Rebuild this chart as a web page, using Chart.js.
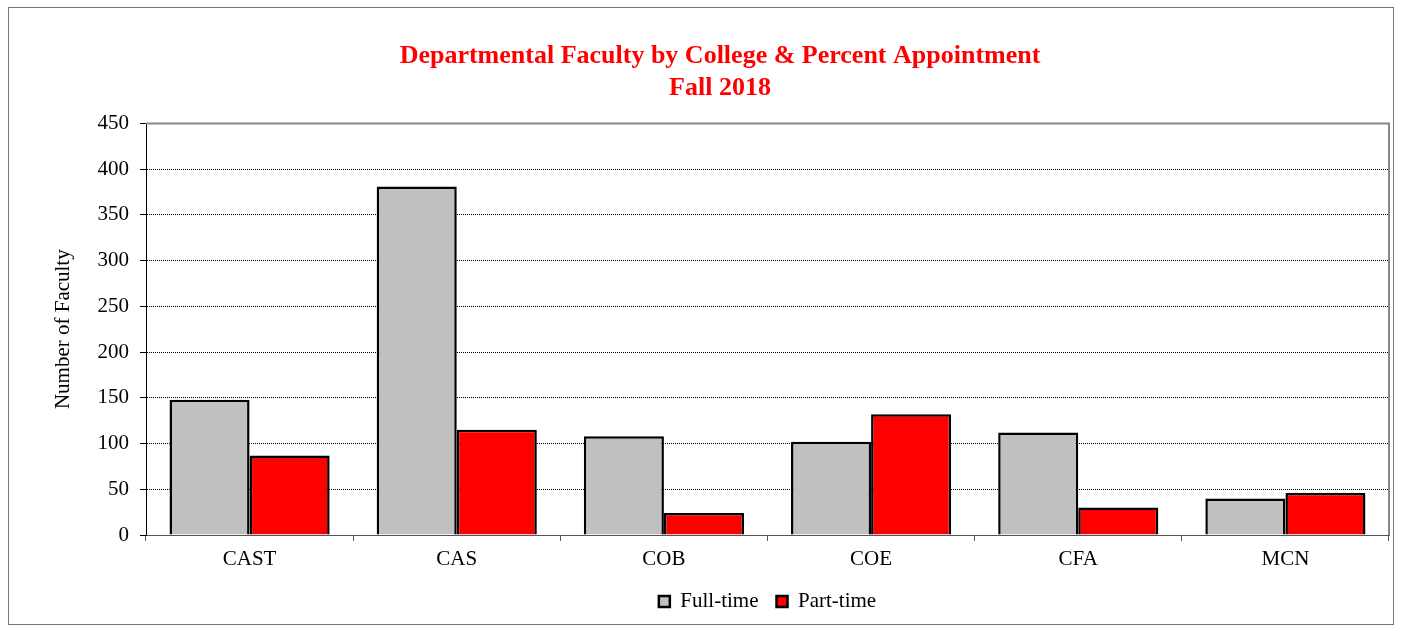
<!DOCTYPE html>
<html>
<head>
<meta charset="utf-8">
<script src="https://cdn.jsdelivr.net/npm/chart.js@4"></script>
<style>
  html, body { margin: 0; padding: 0; background: #fff; }
  #wrap { width: 1401px; height: 626px; }
</style>
</head>
<body>
<div id="wrap"><canvas id="facultyChart"></canvas></div>
<script>
const colleges = ["CAST", "CAS", "COB", "COE", "CFA", "MCN"];
const fullTime = [148, 381, 108, 102, 112, 40];
const partTime = [87, 115, 24, 132, 30, 46];
const titleLines = ["Departmental Faculty by College & Percent Appointment", "Fall 2018"];

const serif = "'Liberation Serif', 'Times New Roman', serif";

// outer chart border plus the gray top/right edge of the plot area
const frame = {
  id: "frame",
  beforeDatasetsDraw(chart) {
    const { ctx, chartArea } = chart;
    ctx.save();
    ctx.strokeStyle = "#888";
    ctx.lineWidth = 2;
    ctx.beginPath();
    ctx.moveTo(chartArea.left, chartArea.top);
    ctx.lineTo(chartArea.right, chartArea.top);
    ctx.lineTo(chartArea.right, chartArea.bottom);
    ctx.stroke();
    ctx.restore();
  },
  afterDraw(chart) {
    const ctx = chart.ctx;
    ctx.save();
    ctx.strokeStyle = "#777";
    ctx.lineWidth = 1;
    ctx.strokeRect(8.5, 7.5, 1385, 617);
    ctx.restore();
  },
};

new Chart(document.getElementById("facultyChart"), {
  type: "bar",
  data: {
    labels: colleges,
    datasets: [
      {
        label: "Full-time",
        data: fullTime,
        backgroundColor: "#C0C0C0",
        borderColor: "#000",
        borderWidth: 2.5,
      },
      {
        label: "Part-time",
        data: partTime,
        backgroundColor: "#FF0000",
        borderColor: "#000",
        borderWidth: 2.5,
      },
    ],
  },
  options: {
    responsive: true,
    maintainAspectRatio: false,
    animation: false,
    layout: { padding: { left: 51, right: 12, top: 8, bottom: 4 } },
    datasets: { bar: { categoryPercentage: 0.773, barPercentage: 1.0 } },
    plugins: {
      title: {
        display: true,
        text: titleLines,
        color: "#FF0000",
        font: { family: serif, size: 26, weight: "bold", lineHeight: 1.2 },
        padding: { top: 33, bottom: 20 },
      },
      legend: {
        position: "bottom",
        fullSize: false,
        labels: {
          color: "#000",
          font: { family: serif, size: 21 },
          boxWidth: 11,
          boxHeight: 11,
          padding: 18,
        },
      },
      tooltip: { enabled: false },
    },
    scales: {
      x: {
        afterFit(scale) { scale.height = 38; },
        grid: {
          drawOnChartArea: false,
          drawTicks: true,
          tickLength: 6,
          tickColor: "#555",
          offset: true,
        },
        border: { color: "#555", width: 1 },
        ticks: { color: "#000", font: { family: serif, size: 21 }, padding: 6 },
      },
      y: {
        min: 0,
        max: 450,
        afterFit(scale) { scale.width = 95; },
        ticks: { stepSize: 50, color: "#000", font: { family: serif, size: 21 }, padding: 11 },
        grid: {
          color: (c) => (c.tick && (c.tick.value === 0 || c.tick.value === 450) ? "rgba(0,0,0,0)" : "#000"),
          lineWidth: 1,
          tickLength: 6,
          tickColor: "#000",
        },
        border: { color: "#000", width: 1, dash: [1, 1] },
        title: {
          display: true,
          text: "Number of Faculty",
          color: "#000",
          font: { family: serif, size: 21 },
          padding: 0,
        },
      },
    },
  },
  plugins: [frame],
});
</script>
</body>
</html>
